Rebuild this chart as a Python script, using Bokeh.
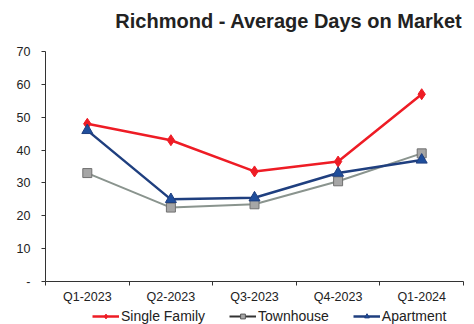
from bokeh.plotting import figure
from bokeh.layouts import column
from bokeh.models import FixedTicker, Legend, LegendItem, Range1d, Label
from bokeh.embed import file_html
from bokeh.resources import INLINE

quarters = ["Q1-2023", "Q2-2023", "Q3-2023", "Q4-2023", "Q1-2024"]
single_family = [48, 43, 33.5, 36.5, 57]
townhouse = [33, 22.5, 23.5, 30.5, 39]
apartment = [46, 25, 25.5, 33, 37]
y_ticks = [0, 10, 20, 30, 40, 50, 60, 70]
series_names = ["Single Family", "Townhouse", "Apartment"]
title_text = "Richmond - Average Days on Market"

xs = [i + 0.5 for i in range(len(quarters))]

red = "#ee1c25"
navy = "#1f3f7f"
gray = "#8a948e"

# title strip (its frame is aligned with the chart frame: x 45..463)
tf = figure(width=474, height=36, output_backend="svg", toolbar_location=None,
            x_range=Range1d(0, 1), y_range=Range1d(0, 1),
            x_axis_location=None, y_axis_location=None,
            min_border=0, min_border_left=0, min_border_right=0,
            min_border_top=0, min_border_bottom=0)
tf.grid.visible = False
tf.outline_line_color = None
tf.add_layout(Label(x=417, y=16, x_units="screen", y_units="screen", text=title_text,
                    text_align="right", text_baseline="middle",
                    text_font="Liberation Sans", text_font_size="20px",
                    text_font_style="bold", text_color="#222222"))

# main chart
p = figure(width=474, height=270, output_backend="svg", toolbar_location=None,
           x_range=Range1d(0, len(quarters)), y_range=Range1d(0, 70),
           min_border_left=45, min_border_right=11, min_border_top=15, min_border_bottom=24)
p.outline_line_color = None
p.xgrid.visible = False
p.ygrid.visible = False
p.background_fill_color = "white"

p.xaxis.ticker = FixedTicker(ticks=xs, minor_ticks=list(range(len(quarters) + 1)))
p.xaxis.major_label_overrides = {x: q for x, q in zip(xs, quarters)}
p.xaxis.major_tick_out = 0
p.xaxis.major_tick_in = 0
p.xaxis.minor_tick_out = 4
p.xaxis.minor_tick_in = 0
p.xaxis.major_label_standoff = 4
p.yaxis.ticker = FixedTicker(ticks=y_ticks, minor_ticks=[])
p.yaxis.major_label_overrides = {0: "-"}
p.yaxis.major_tick_out = 4
p.yaxis.major_tick_in = 0
p.yaxis.major_label_standoff = 11
for ax in (p.xaxis, p.yaxis):
    ax.axis_line_color = "#333333"
    ax.major_tick_line_color = "#333333"
    ax.minor_tick_line_color = "#333333"
    ax.major_label_text_font = "Liberation Sans"
    ax.major_label_text_font_size = "12.5px"
    ax.major_label_text_color = "#222222"

p.line(xs, single_family, line_color=red, line_width=2.5)
p.scatter(xs, single_family, marker="diamond", size=11, fill_color=red, line_color=red)
p.line(xs, townhouse, line_color=gray, line_width=2)
p.scatter(xs, townhouse, marker="square", size=9, fill_color="#a6a6a6", line_color="#707070")
p.line(xs, apartment, line_color=navy, line_width=2.5)
p.scatter(xs, apartment, marker="triangle", size=11, fill_color="#1f4e9c", line_color=navy)

# legend strip (series drawn out of view; only their legend keys show)
lg = figure(width=474, height=18, output_backend="svg", toolbar_location=None,
            x_range=Range1d(0, len(quarters)), y_range=Range1d(-2, -1),
            x_axis_location=None, y_axis_location=None,
            min_border=0, min_border_left=0, min_border_right=0,
            min_border_top=0, min_border_bottom=0)
lg.grid.visible = False
lg.outline_line_color = None
a1 = lg.line(xs, single_family, line_color=red, line_width=2.5)
b1 = lg.scatter(xs, single_family, marker="diamond", size=10, fill_color=red, line_color=red)
a2 = lg.line(xs, townhouse, line_color="#333333", line_width=2)
b2 = lg.scatter(xs, townhouse, marker="square", size=7, fill_color="#a6a6a6", line_color="#555555")
a3 = lg.line(xs, apartment, line_color=navy, line_width=2.5)
b3 = lg.scatter(xs, apartment, marker="triangle", size=9, fill_color="#1f4e9c", line_color=navy)

legend = Legend(items=[
    LegendItem(label=series_names[0], renderers=[a1, b1]),
    LegendItem(label=series_names[1], renderers=[a2, b2]),
    LegendItem(label=series_names[2], renderers=[a3, b3]),
], orientation="horizontal", location=(47, 0), spacing=24,
   label_text_font="Liberation Sans", label_text_font_size="14px",
   label_text_color="#222222", glyph_width=27, glyph_height=12,
   padding=1, margin=0, border_line_color=None, background_fill_alpha=0,
   label_standoff=2, label_height=14)
lg.add_layout(legend, "center")

layout = column(tf, p, lg, spacing=0)
open("out.html", "w").write(file_html(layout, INLINE))
